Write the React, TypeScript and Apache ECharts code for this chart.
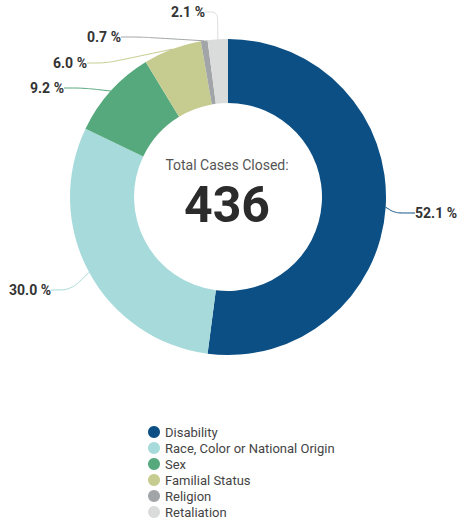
import React, { useEffect, useRef } from "react";
import * as echarts from "echarts";

const categories = [
  "Disability",
  "Race, Color or National Origin",
  "Sex",
  "Familial Status",
  "Religion",
  "Retaliation",
];
const caseCounts = [227, 131, 40, 26, 3, 9];
const sliceColors = ["#0b4f84", "#a7dada", "#56a87d", "#c6cc90", "#a1a5a7", "#dadcdb"];
const totalLabel = "Total Cases Closed:";
const total = caseCounts.reduce((a, b) => a + b, 0);

// label anchor placements (layout only)
const labelSpots = [
  { x: 415, y: 213, align: "left" },
  { x: 51, y: 290, align: "right" },
  { x: 64, y: 88, align: "right" },
  { x: 87, y: 63, align: "right" },
  { x: 121, y: 37, align: "right" },
  { x: 205, y: 12, align: "right" },
];

export default function App() {
  const ref = useRef<HTMLDivElement>(null);
  useEffect(() => {
    if (!ref.current) return;
    const chart = echarts.init(ref.current, null, { renderer: "svg" });
    chart.setOption({
      animation: false,
      backgroundColor: "#ffffff",
      color: sliceColors,
      legend: {
        orient: "vertical",
        left: 143,
        top: 420,
        height: 110,
        padding: [5, 5, 0, 5],
        icon: "circle",
        itemWidth: 12,
        itemHeight: 12,
        itemGap: 2,
        textStyle: { fontFamily: "Roboto", fontSize: 13, color: "#444", lineHeight: 14 },
        data: categories,
      },
      graphic: [
        {
          type: "text",
          x: 227,
          y: 165,
          style: {
            text: totalLabel,
            fontFamily: "Roboto",
            fontSize: 14,
            fill: "#555",
            textAlign: "center",
            textVerticalAlign: "middle",
          },
        },
        {
          type: "text",
          x: 227,
          y: 205,
          style: {
            text: String(total),
            fontFamily: "Roboto",
            fontWeight: "bold",
            fontSize: 50,
            fill: "#2b2b2b",
            textAlign: "center",
            textVerticalAlign: "middle",
          },
        },
      ],
      series: [
        {
          type: "pie",
          center: [228, 197],
          radius: [94, 158],
          startAngle: 90,
          clockwise: true,
          avoidLabelOverlap: false,
          data: categories.map((name, i) => ({ name, value: caseCounts[i] })),
          label: {
            show: true,
            formatter: (p: any) => ((p.value / total) * 100).toFixed(1) + " %",
            fontFamily: "Roboto",
            fontWeight: "bold",
            fontSize: 14,
            color: "#333",
          },
          labelLine: {
            show: true,
            smooth: 0.3,
            length: 12,
            length2: 20,
            lineStyle: { width: 1 },
          },
          labelLayout: (params: any) => {
            const s = labelSpots[params.dataIndex];
            return {
              x: s.x,
              y: s.y,
              align: s.align,
              verticalAlign: "middle",
            };
          },
          emphasis: { disabled: true },
        },
      ],
    });
    return () => chart.dispose();
  }, []);
  return (
    <div
      ref={ref}
      style={{ position: "fixed", left: 0, top: 0, width: 466, height: 522 }}
    />
  );
}
